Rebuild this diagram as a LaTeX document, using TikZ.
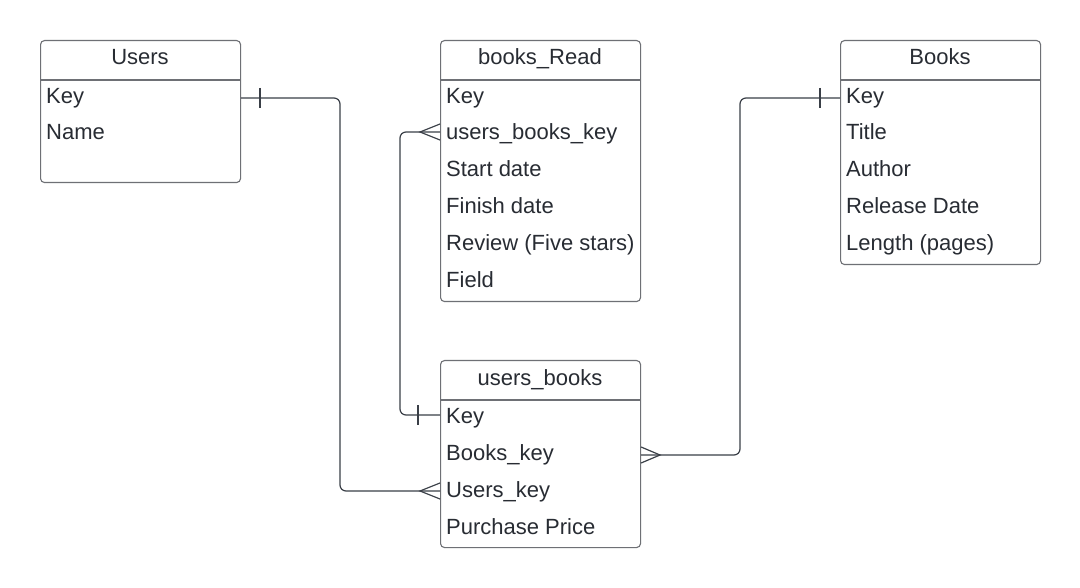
\documentclass[tikz,border=0pt]{standalone}
\usepackage{fontspec}
\setmainfont{Liberation Sans}
\usetikzlibrary{calc}
\definecolor{txt}{HTML}{282C33}
\definecolor{bord}{HTML}{6E7075}
\definecolor{ln}{HTML}{3A3F47}
\begin{document}
\begin{tikzpicture}[x=1pt,y=-1pt,
  tbl/.style={draw=bord, line width=1.1pt, rounded corners=4pt, anchor=north west, minimum width=200pt, inner sep=0pt},
  ttl/.style={font=\fontsize{22}{26}\selectfont, text=txt, anchor=base, inner sep=0pt},
  row/.style={font=\fontsize{22}{26}\selectfont, text=txt, anchor=base west, inner sep=0pt},
  sep/.style={draw=bord, line width=1.1pt},
  conn/.style={draw=ln, line width=1.2pt, rounded corners=6pt},
  endmark/.style={draw=ln, line width=1.2pt}]
\fill[white] (0,0) rectangle (1080,588);
\useasboundingbox (0,0) rectangle (1080,588);
% tables
\node[tbl, minimum height=142pt] (users) at (40,40) {};
\node[tbl, minimum height=261pt] (br) at (440,40) {};
\node[tbl, minimum height=224pt] (bk) at (840,40) {};
\node[tbl, minimum height=187pt] (ub) at (440,360) {};
\draw[sep] (users.west |- 0,80) -- (users.east |- 0,80);
\draw[sep] (br.west |- 0,80) -- (br.east |- 0,80);
\draw[sep] (bk.west |- 0,80) -- (bk.east |- 0,80);
\draw[sep] (ub.west |- 0,400) -- (ub.east |- 0,400);
% titles
\node[ttl] (usersT) at (140,65) {Users};
\node[ttl] (brT) at (540,65) {books\_Read};
\node[ttl] (bkT) at (940,65) {Books};
\node[ttl] (ubT) at (540,385) {users\_books};
% rows
\node[row] (u1) at (46,104) {Key};
\node[row] (u2) at (46,140) {Name};
\node[row] (r1) at (446,104) {Key};
\node[row] (r2) at (446,140) {users\_books\_key};
\node[row] (r3) at (446,177) {Start date};
\node[row] (r4) at (446,214) {Finish date};
\node[row] (r5) at (446,251) {Review (Five stars)};
\node[row] (r6) at (446,288) {Field};
\node[row] (b1) at (846,104) {Key};
\node[row] (b2) at (846,140) {Title};
\node[row] (b3) at (846,177) {Author};
\node[row] (b4) at (846,214) {Release Date};
\node[row] (b5) at (846,251) {Length (pages)};
\node[row] (s1) at (446,423) {Key};
\node[row] (s2) at (446,460) {Books\_key};
\node[row] (s3) at (446,497) {Users\_key};
\node[row] (s4) at (446,534) {Purchase Price};
% connectors
\coordinate (c1) at (340,491);
\draw[conn] (users.east |- 0,98) -| (c1) -- (ub.west |- c1);
\draw[endmark] (260,88) -- (260,108);
\draw[endmark] (ub.west |- 0,483) -- (420,491) -- (ub.west |- 0,499);
\coordinate (c2) at (400,415);
\draw[conn] (br.west |- 0,132) -| (c2) -- (ub.west |- c2);
\draw[endmark] (br.west |- 0,124) -- (420,132) -- (br.west |- 0,140);
\draw[endmark] (418,405) -- (418,425);
\coordinate (c3) at (740,455);
\draw[conn] (bk.west |- 0,98) -| (c3) -- (ub.east |- c3);
\draw[endmark] (820,88) -- (820,108);
\draw[endmark] (ub.east |- 0,447) -- (660,455) -- (ub.east |- 0,463);
\end{tikzpicture}
\end{document}
